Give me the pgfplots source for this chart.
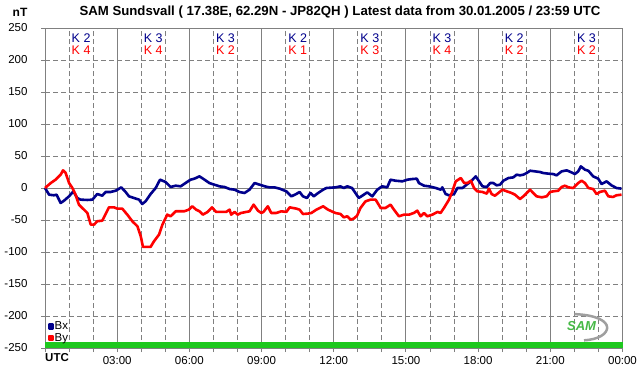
\documentclass[border=0pt]{standalone}
\usepackage{pgfplots}
\pgfplotsset{compat=1.18}
\usepackage{fontspec}
\setmainfont{Liberation Sans}
\definecolor{bxblue}{RGB}{0,0,140}
\definecolor{byred}{RGB}{255,0,0}
\definecolor{gridgray}{RGB}{128,128,128}
\definecolor{barGreen}{RGB}{30,200,30}
\tikzset{kb/.style={text=bxblue, font=\fontsize{12.5}{14}\selectfont, inner sep=0pt},
         kr/.style={text=byred, font=\fontsize{12.5}{14}\selectfont, inner sep=0pt}}
\begin{document}
\begin{tikzpicture}[x=1pt,y=1pt]
\fill[white] (0,0) rectangle (642,376);
\useasboundingbox (0,0) rectangle (642,376);
\node[font=\bfseries\fontsize{13.2}{15}\selectfont] at (340,364) {SAM Sundsvall ( 17.38E, 62.29N - JP82QH ) Latest data from 30.01.2005 / 23:59 UTC};
\node[font=\bfseries\fontsize{12}{14}\selectfont] at (20,364) {nT};
\begin{axis}[
  at={(45pt,28pt)}, anchor=south west,
  scale only axis, width=577.5pt, height=320pt,
  xmin=0, xmax=24, ymin=-250, ymax=250,
  xtick={0,3,...,24},
  xticklabels={,03:00,06:00,09:00,12:00,15:00,18:00,21:00,00:00},
  minor xtick={1,2,4,5,7,8,10,11,13,14,16,17,19,20,22,23},
  ytick={-250,-200,...,250},
  minor ytick={-200,-150,...,200},
  xmajorgrids, xminorgrids, yminorgrids,
  major grid style={gridgray, line width=1pt},
  minor grid style={gridgray, line width=1pt, dash pattern=on 5pt off 3pt},
  axis line style={gridgray, line width=1pt},
  tick style={gridgray, line width=1pt},
  tick align=outside, major tick length=4pt, minor tick length=4pt,
  tick pos=left,
  /pgf/number format/assume math mode=true,
  ticklabel style={font=\fontsize{11.5}{13}\selectfont},
  yticklabel style={anchor=east, xshift=-10pt},
  xticklabel style={yshift=-1pt},
  legend style={draw=none, fill=none, at={(axis cs:0.1,-243)}, anchor=south west,
    font=\fontsize{11.5}{12}\selectfont, row sep=1.5pt, inner sep=0pt,
    nodes={inner sep=0.5pt}},
  legend cell align=left,
  clip=false,
]
\fill[barGreen] (axis cs:0,-250) rectangle (axis cs:24,-241);
\draw[gridgray, line width=1pt] (axis cs:0,0) -- (axis cs:24,0);
\addplot[bxblue, line width=2.6pt, sharp plot, line join=round,
  legend image code/.code={\fill[bxblue] (0pt,-2pt) rectangle (4pt,2pt);}] coordinates {
(0,0)(0.17,-10.4)(0.37,-11.4)(0.48,-10.4)(0.65,-23.4)(0.79,-19.8)(1.0,-13)(1.18,-5.2)(1.34,-15.6)(1.48,-18.2)(1.76,-18.7)(1.97,-18.2)(2.17,-9.4)(2.38,-12)(2.52,-6.2)(2.73,-6.2)(2.94,-4.2)(3.17,1)(3.35,-6.2)(3.49,-13)(3.70,-15.6)(3.91,-18.2)(4.04,-25)(4.18,-20.8)(4.39,-9.4)(4.60,0)(4.78,13)(5.01,9.4)(5.22,1.6)(5.43,3.6)(5.64,2.6)(5.84,7.8)(6.05,13)(6.21,14.6)(6.42,18.2)(6.63,13)(6.83,7.8)(7.04,5.2)(7.25,2.6)(7.46,1.6)(7.67,-1.6)(7.88,-2.6)(8.08,-6.2)(8.29,-7.8)(8.5,-2.6)(8.71,7.8)(8.92,5.2)(9.13,2.6)(9.33,1)(9.54,1)(9.75,-1)(10.03,-5.2)(10.24,-13)(10.44,-9.4)(10.58,-6.2)(10.72,-13)(10.89,-15.6)(11.03,-7.8)(11.17,-13)(11.35,-7.8)(11.56,-2.6)(11.69,0)(12.07,1)(12.28,2.6)(12.42,0)(12.56,2.6)(12.76,0)(12.9,-7.8)(13.04,-15.6)(13.25,-10.4)(13.39,-6.8)(13.6,-13)(13.81,-2.6)(14.01,2.6)(14.22,1)(14.36,13)(14.57,11.4)(14.85,10.4)(15.06,13)(15.26,14)(15.45,14.6)(15.54,7.8)(15.75,3.6)(15.96,2.6)(16.24,0)(16.45,-2.6)(16.51,1)(16.65,-9.4)(16.79,-11.4)(17.0,-9.4)(17.14,0)(17.35,0)(17.49,4.2)(17.7,10.4)(17.9,18.2)(18.04,10.4)(18.18,2.6)(18.36,1.6)(18.5,7.8)(18.63,7.8)(18.77,4.2)(18.91,5.2)(19.05,11.4)(19.26,15.6)(19.46,16.6)(19.6,20.8)(19.74,19.8)(19.88,20.8)(20.02,23.4)(20.16,27)(20.36,26)(20.57,25)(20.71,23.4)(20.92,22.4)(21.12,21.8)(21.26,19.8)(21.47,26)(21.68,27.6)(21.88,24.4)(22.02,21.8)(22.16,26)(22.27,33.8)(22.44,28.6)(22.58,27)(22.78,18.2)(22.99,14.6)(23.13,6.2)(23.34,10.4)(23.54,4.2)(23.75,0)(23.96,-1)
};
\addlegendentry{Bx}
\addplot[byred, line width=2.6pt, sharp plot, line join=round,
  legend image code/.code={\fill[byred] (0pt,-2pt) rectangle (4pt,2pt);}] coordinates {
(0,0)(0.24,7.8)(0.44,13)(0.65,20.8)(0.75,27.6)(0.86,23.4)(1.0,7.8)(1.14,0)(1.27,-10.4)(1.41,-26)(1.62,-33.8)(1.76,-39)(1.9,-57.2)(2.04,-57.2)(2.17,-52)(2.38,-51)(2.52,-40.6)(2.66,-30.2)(2.87,-30.2)(3.0,-32.2)(3.21,-32.2)(3.42,-41.6)(3.63,-52)(3.84,-59.8)(3.98,-75.4)(4.07,-92)(4.39,-92)(4.53,-83.2)(4.74,-72.8)(4.88,-57.2)(5.08,-41.6)(5.22,-44.2)(5.43,-36.4)(5.78,-36.4)(5.98,-33.8)(6.12,-28.6)(6.28,-33.8)(6.42,-36.4)(6.56,-41.6)(6.76,-37.4)(6.94,-30.2)(7.11,-37.4)(7.53,-37.4)(7.67,-33.8)(7.74,-41.6)(7.88,-37.4)(8.01,-41.6)(8.15,-39)(8.36,-37.4)(8.5,-36.4)(8.67,-26)(8.85,-35.4)(8.99,-39)(9.08,-37.4)(9.26,-28.6)(9.4,-39)(9.61,-39)(9.82,-36.4)(10.03,-37.4)(10.17,-30.2)(10.44,-32.2)(10.58,-33.8)(10.72,-40.6)(10.93,-40)(11.07,-39)(11.28,-33.8)(11.56,-28.6)(11.76,-33.8)(11.97,-37.4)(12.07,-39)(12.28,-40.6)(12.42,-45.8)(12.56,-44.2)(12.7,-49.4)(12.83,-47.8)(12.97,-43.2)(13.11,-31.2)(13.32,-20.8)(13.53,-18.2)(13.74,-18.2)(13.95,-31.2)(14.15,-31.2)(14.36,-26)(14.5,-33.8)(14.71,-44.2)(14.92,-41.6)(15.13,-41.6)(15.33,-39)(15.47,-35.4)(15.61,-44.2)(15.75,-39)(15.89,-44.2)(16.1,-41.6)(16.31,-37.4)(16.44,-39)(16.58,-31.2)(16.79,-18.2)(16.93,-5.2)(17.07,10.4)(17.28,15.6)(17.42,7.8)(17.56,7.8)(17.7,11.4)(17.83,0)(17.97,-5.2)(18.18,-6.2)(18.36,-8.8)(18.45,-1)(18.56,-9.4)(18.7,-12)(18.84,-7.8)(19.01,-2.6)(19.19,-5.2)(19.39,-7.8)(19.53,-10.4)(19.74,-17.2)(19.88,-13)(20.02,-7.8)(20.16,-2.6)(20.29,-7.8)(20.43,-13)(20.64,-14.6)(20.85,-13)(20.99,-6.2)(21.12,-5.2)(21.33,-4.2)(21.47,1.6)(21.61,3.6)(21.75,1)(21.95,0)(22.16,7.8)(22.3,11.4)(22.44,7.8)(22.58,0)(22.78,-1.6)(22.92,-9.4)(23.06,-6.2)(23.27,-4.2)(23.41,-13)(23.61,-14)(23.75,-11.4)(23.96,-10.4)
};
\addlegendentry{By}
% K indices
\node[kb] at (axis cs:1.5,234) {K 2};   \node[kr] at (axis cs:1.5,215.5) {K 4};
\node[kb] at (axis cs:4.5,234) {K 3};   \node[kr] at (axis cs:4.5,215.5) {K 4};
\node[kb] at (axis cs:7.5,234) {K 3};   \node[kr] at (axis cs:7.5,215.5) {K 2};
\node[kb] at (axis cs:10.5,234) {K 2};  \node[kr] at (axis cs:10.5,215.5) {K 1};
\node[kb] at (axis cs:13.5,234) {K 3};  \node[kr] at (axis cs:13.5,215.5) {K 3};
\node[kb] at (axis cs:16.5,234) {K 3};  \node[kr] at (axis cs:16.5,215.5) {K 4};
\node[kb] at (axis cs:19.5,234) {K 2};  \node[kr] at (axis cs:19.5,215.5) {K 2};
\node[kb] at (axis cs:22.5,234) {K 3};  \node[kr] at (axis cs:22.5,215.5) {K 2};
% UTC label
\node[font=\bfseries\fontsize{11.5}{13}\selectfont, anchor=north west, inner sep=0pt] at (axis cs:0,-259) {UTC};
% SAM logo (decoration)
\draw[gray!75, line width=2.5pt] (axis cs:22.0,-197) .. controls (axis cs:23.9,-200) and (axis cs:23.6,-236) .. (axis cs:22.4,-238);
\node[font=\itshape\bfseries\fontsize{13}{13}\selectfont, text=green!45!gray, inner sep=0pt] at (axis cs:22.3,-216) {SAM};
\end{axis}
\end{tikzpicture}
\end{document}
